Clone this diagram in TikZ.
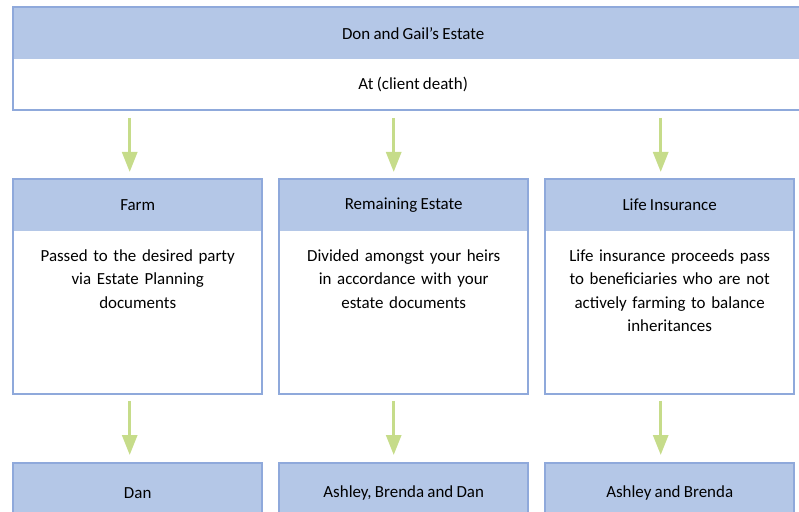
\documentclass[tikz,border=0pt]{standalone}
\usepackage{fontspec}
\setmainfont{Carlito}[WordSpace={0.85,0.5,0.3}]
\usetikzlibrary{arrows.meta}
\definecolor{hdrblue}{RGB}{180,199,231}
\definecolor{edgeblue}{RGB}{143,169,219}
\definecolor{leafgreen}{RGB}{198,220,138}
\tikzset{hdr/.style={fill=hdrblue, anchor=north west, inner sep=0pt, minimum height=52bp,
      font=\fontsize{17}{20}\selectfont}}
\tikzset{pane/.style={fill=white, anchor=north west, inner sep=0pt,
      font=\fontsize{17}{20}\selectfont}}
\tikzset{note/.style={anchor=north, inner sep=0pt, align=center, text width=240bp,
      font=\fontsize{17}{23.5}\selectfont}}
\tikzset{frame/.style={draw=edgeblue, line width=2bp}}
\tikzset{down/.style={draw=leafgreen, line width=3bp,
      -{Triangle[width=15bp,length=20bp]}}}

\begin{document}
\begin{tikzpicture}[x=1bp,y=-1bp]
	\useasboundingbox (0,0) rectangle (799,512);
	% top
	\node[hdr, minimum width=800bp] (estate) at (13,7) {Don and Gail's Estate};
	\node[pane, minimum width=800bp, minimum height=50bp] (estatenote) at (estate.south west) {At (client death)};
	\draw[frame] (estate.north west) rectangle (estatenote.south east);
	% middle
	\node[hdr, minimum width=249bp] (farm) at (13,179) {Farm};
	\node[pane, minimum width=249bp, minimum height=162bp] (farmbox) at (farm.south west) {};
	\node[note] (farmtext) at ([yshift=-18bp]farm.south) {Passed to the desired party\\ via Estate Planning\\ documents};
	\draw[frame] (farm.north west) rectangle (farmbox.south east);
	\node[hdr, minimum width=249bp] (rest) at (279,179) {Remaining Estate};
	\node[pane, minimum width=249bp, minimum height=162bp] (restbox) at (rest.south west) {};
	\node[note] (resttext) at ([yshift=-18bp]rest.south) {Divided amongst your heirs\\ in accordance with your\\ estate documents};
	\draw[frame] (rest.north west) rectangle (restbox.south east);
	\node[hdr, minimum width=249bp] (life) at (545,179) {Life Insurance};
	\node[pane, minimum width=249bp, minimum height=162bp] (lifebox) at (life.south west) {};
	\node[note] (lifetext) at ([yshift=-18bp]life.south) {Life insurance proceeds pass\\ to beneficiaries who are not\\ actively farming to balance\\ inheritances};
	\draw[frame] (life.north west) rectangle (lifebox.south east);
	% bottom
	\node[hdr, minimum width=249bp, minimum height=60bp] (dan) at (13,463) {Dan};
	\draw[frame] (dan.north west) rectangle (dan.south east);
	\node[hdr, minimum width=249bp, minimum height=60bp] (abd) at (279,463) {Ashley, Brenda and Dan};
	\draw[frame] (abd.north west) rectangle (abd.south east);
	\node[hdr, minimum width=249bp, minimum height=60bp] (ab) at (545,463) {Ashley and Brenda};
	\draw[frame] (ab.north west) rectangle (ab.south east);
	% arrows
	\draw[down] ([xshift=-8bp,yshift=-8bp]estatenote.south -| farm.north) -- ([xshift=-8bp,yshift=7bp]farm.north);
	\draw[down] ([xshift=-10bp,yshift=-8bp]estatenote.south -| rest.north) -- ([xshift=-10bp,yshift=7bp]rest.north);
	\draw[down] ([xshift=-9bp,yshift=-8bp]estatenote.south -| life.north) -- ([xshift=-9bp,yshift=7bp]life.north);
	\draw[down] ([xshift=-8bp,yshift=-7bp]farmbox.south) -- ([xshift=-8bp,yshift=8bp]dan.north);
	\draw[down] ([xshift=-10bp,yshift=-7bp]restbox.south) -- ([xshift=-10bp,yshift=8bp]abd.north);
	\draw[down] ([xshift=-9bp,yshift=-7bp]lifebox.south) -- ([xshift=-9bp,yshift=8bp]ab.north);
\end{tikzpicture}
\end{document}
